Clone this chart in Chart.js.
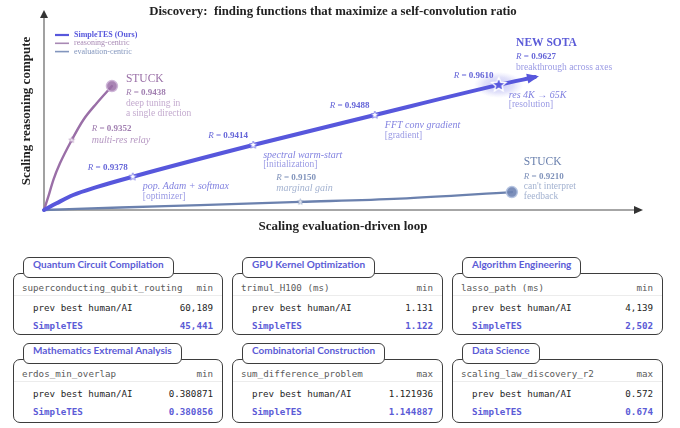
<!DOCTYPE html>
<html><head><meta charset="utf-8">
<script src="https://cdn.jsdelivr.net/npm/chart.js@4.4.1/dist/chart.umd.min.js"></script>
<style>
html,body{margin:0;padding:0;background:#fff;}
#wrap{position:relative;width:680px;height:428px;overflow:hidden;background:#fff;}
#c{position:absolute;left:0;top:0;}
.card{position:absolute;border:1.3px solid #3d3d3d;border-radius:7px;background:#fff;box-sizing:border-box;}
.tab{position:absolute;top:-17px;left:9px;height:21px;line-height:19px;padding:0 9px;border:1.3px solid #3d3d3d;border-radius:6px;background:#fff;box-sizing:border-box;font:bold 10px Lato,sans-serif;color:#5b5bd6;white-space:nowrap;}
.row{position:absolute;height:12px;line-height:12px;font:9.2px "DejaVu Sans Mono",monospace;white-space:nowrap;}
.row .r{position:absolute;right:0;top:0;}
.hdr{left:8px;right:9px;top:8px;color:#5a5a5a;}
.sep{position:absolute;left:0;right:0;top:21px;height:1px;background:#ececec;}
.prev{left:19px;right:9px;top:28px;color:#1e1e1e;}
.stes{left:19px;right:9px;top:46px;color:#5b5bd6;font-weight:bold;}
</style></head>
<body>
<div id="wrap">
<canvas id="c" width="680" height="240"></canvas>
<div id="cards"></div>
</div>
<script>
// ---------------- data ----------------
const simpleX = [0, 2.1, 4.9, 8.8, 14.9, 35.1, 55.5, 76.3, 82.4];
const simpleY = [0, 3.4, 7.6, 11.6, 16.9, 33.0, 48.2, 63.5, 67.5];
const simpleMilestoneIdx = [4, 5, 6, 7];
const simpleR = ['0.9378', '0.9414', '0.9488', '0.9610'];
const simpleNotes = ['pop. Adam + softmax', 'spectral warm-start', 'FFT conv gradient', 'res 4K \u2192 65K'];
const simpleTags = ['[optimizer]', '[initialization]', '[gradient]', '[resolution]'];
const simpleFinalR = '0.9627';

const reasonX = [0, 0.72, 1.56, 2.68, 4.65, 6.59, 8.84, 11.4];
const reasonY = [0, 6.75, 15.2, 23.7, 35.5, 45.7, 54.2, 62.9];
const reasonMilestoneIdx = 4;
const reasonR = '0.9352';
const reasonNote = 'multi-res relay';
const reasonFinalR = '0.9438';

const evalX = [0, 12.8, 26.2, 43.0, 59.7, 78.5];
const evalY = [0, 1.3, 2.5, 4.1, 5.8, 9.1];
const evalMilestoneIdx = 3;
const evalR = '0.9150';
const evalNote = 'marginal gain';
const evalFinalR = '0.9210';

const legendLabels = ['SimpleTES (Ours)', 'reasoning-centric', 'evaluation-centric'];

const cardTitles = ['Quantum Circuit Compilation', 'GPU Kernel Optimization', 'Algorithm Engineering',
  'Mathematics Extremal Analysis', 'Combinatorial Construction', 'Data Science'];
const cardMetrics = ['superconducting_qubit_routing', 'trimul_H100 (ms)', 'lasso_path (ms)',
  'erdos_min_overlap', 'sum_difference_problem', 'scaling_law_discovery_r2'];
const cardDirections = ['min', 'min', 'min', 'min', 'max', 'max'];
const prevBest = ['60,189', '1.131', '4,139', '0.380871', '1.121936', '0.572'];
const simpleTESBest = ['45,441', '1.122', '2,502', '0.380856', '1.144887', '0.674'];

// ---------------- styles ----------------
const BLUE = '#5757dc', MAUVE = '#9a6fa7', SLATE = '#6b81ae';
const SERIF = '"Liberation Serif", "Times New Roman", serif';

// ---------------- cards ----------------
const cardLefts = [13, 232, 452], cardWidths = [210, 211, 211];
const cardTops = [273, 359], cardHeights = [62, 64];
const cardsEl = document.getElementById('cards');
cardTitles.forEach((t, i) => {
  const col = i % 3, row = Math.floor(i / 3);
  const d = document.createElement('div');
  d.className = 'card';
  d.style.left = cardLefts[col] + 'px';
  d.style.top = cardTops[row] + 'px';
  d.style.width = cardWidths[col] + 'px';
  d.style.height = cardHeights[row] + 'px';
  d.innerHTML =
    '<div class="sep"></div>' +
    '<div class="row hdr">' + cardMetrics[i] + '<span class="r">' + cardDirections[i] + '</span></div>' +
    '<div class="row prev">prev best human/AI<span class="r">' + prevBest[i] + '</span></div>' +
    '<div class="row stes">SimpleTES<span class="r">' + simpleTESBest[i] + '</span></div>' +
    '<div class="tab">' + t + '</div>';
  cardsEl.appendChild(d);
});

// ---------------- marker images ----------------
function starCanvas(size, fill, stroke, lw) {
  const c = document.createElement('canvas');
  const s = Math.ceil(size + lw * 2 + 2);
  c.width = c.height = s;
  const g = c.getContext('2d');
  const cx = s / 2, cy = s / 2, R = size / 2, r = R * 0.45;
  g.beginPath();
  for (let k = 0; k < 10; k++) {
    const a = -Math.PI / 2 + k * Math.PI / 5;
    const rr = k % 2 === 0 ? R : r;
    g.lineTo(cx + rr * Math.cos(a), cy + rr * Math.sin(a));
  }
  g.closePath();
  g.fillStyle = fill; g.fill();
  if (lw > 0) { g.lineWidth = lw; g.strokeStyle = stroke; g.stroke(); }
  return c;
}
const smallStarBlue = starCanvas(8, '#ffffff', '#7a7ae8', 0.8);
const bigStar = starCanvas(15, '#5a5ae0', '#ffffff', 1.4);
const smallStarMauve = starCanvas(6, '#f3ecf5', MAUVE, 0.5);
const smallStarSlate = starCanvas(6, '#eef1f8', SLATE, 0.5);

const pts = (xs, ys) => xs.map((x, i) => ({ x, y: ys[i] }));
const simplePts = pts(simpleX, simpleY);
const reasonPts = pts(reasonX, reasonY);
const evalPts = pts(evalX, evalY);

// ---------------- drawing helpers ----------------
function rich(ctx, x, y, parts) {
  let cx = x;
  parts.forEach(p => {
    ctx.font = p.f; ctx.fillStyle = p.c;
    ctx.fillText(p.t, cx, y);
    cx += ctx.measureText(p.t).width;
  });
}
function rLabel(ctx, x, y, val, color) {
  rich(ctx, x, y, [
    { t: 'R', f: 'italic 9px ' + SERIF, c: color },
    { t: ' = ', f: '9px ' + SERIF, c: color },
    { t: val, f: 'bold 9px ' + SERIF, c: color }
  ]);
}
function text(ctx, s, x, y, font, color, align) {
  ctx.font = font; ctx.fillStyle = color; ctx.textAlign = align || 'left';
  ctx.fillText(s, x, y); ctx.textAlign = 'left';
}

const deco = {
  id: 'deco',
  beforeDatasetsDraw(chart) {
    const { ctx, chartArea: a, scales } = chart;
    ctx.save();
    // x axis
    ctx.strokeStyle = '#a6a6a6'; ctx.lineWidth = 2;
    ctx.beginPath(); ctx.moveTo(a.left, a.bottom); ctx.lineTo(a.right - 4, a.bottom); ctx.stroke();
    ctx.fillStyle = '#333';
    ctx.beginPath(); ctx.moveTo(a.right + 3, a.bottom); ctx.lineTo(a.right - 6, a.bottom - 4); ctx.lineTo(a.right - 6, a.bottom + 4); ctx.closePath(); ctx.fill();
    // y axis
    ctx.strokeStyle = '#555'; ctx.lineWidth = 1.1;
    ctx.beginPath(); ctx.moveTo(a.left, a.bottom); ctx.lineTo(a.left, a.top + 4); ctx.stroke();
    ctx.beginPath(); ctx.moveTo(a.left, a.top - 3); ctx.lineTo(a.left - 4, a.top + 5); ctx.lineTo(a.left + 4, a.top + 5); ctx.closePath(); ctx.fill();
    // glow around breakthrough star
    const gi = simpleMilestoneIdx[3];
    const gx = scales.x.getPixelForValue(simpleX[gi]), gy = scales.y.getPixelForValue(simpleY[gi]);
    ctx.translate(gx, gy); ctx.scale(1.9, 1);
    const grd = ctx.createRadialGradient(0, 0, 0, 0, 0, 13);
    grd.addColorStop(0, 'rgba(150,150,240,0.55)');
    grd.addColorStop(0.6, 'rgba(170,170,240,0.35)');
    grd.addColorStop(1, 'rgba(190,190,245,0)');
    ctx.fillStyle = grd; ctx.beginPath(); ctx.arc(0, 0, 13, 0, Math.PI * 2); ctx.fill();
    ctx.restore();
  },
  afterDatasetsDraw(chart) {
    const { ctx } = chart;
    ctx.save();
    ctx.textBaseline = 'middle';
    // arrowhead at end of SimpleTES path
    const m = chart.getDatasetMeta(0).data;
    const p1 = m[m.length - 2], p2 = m[m.length - 1];
    const ang = Math.atan2(p2.y - p1.y, p2.x - p1.x);
    ctx.translate(p2.x, p2.y); ctx.rotate(ang);
    ctx.fillStyle = BLUE;
    ctx.beginPath(); ctx.moveTo(4, 0); ctx.lineTo(-8, -5); ctx.lineTo(-8, 5); ctx.closePath(); ctx.fill();
    const dpr = chart.currentDevicePixelRatio || 1;
    ctx.setTransform(dpr, 0, 0, dpr, 0, 0);

    // title & axis labels
    text(ctx, 'Discovery:  finding functions that maximize a self-convolution ratio', 333, 12, 'bold 12.8px ' + SERIF, '#222', 'center');
    text(ctx, 'Scaling evaluation-driven loop', 343, 227, 'bold 13px ' + SERIF, '#222', 'center');
    ctx.save(); ctx.translate(27, 111); ctx.rotate(-Math.PI / 2);
    text(ctx, 'Scaling reasoning compute', 0, 0, 'bold 13px ' + SERIF, '#222', 'center');
    ctx.restore();

    // legend
    const lc = [BLUE, '#a889b4', '#8295bd'], lt = ['#5757dc', '#a889b4', '#8295bd'];
    const lw = [2.2, 1.6, 1.6];
    legendLabels.forEach((s, i) => {
      const y = 35 + i * 8.3;
      ctx.strokeStyle = lc[i]; ctx.lineWidth = lw[i];
      ctx.beginPath(); ctx.moveTo(55, y); ctx.lineTo(69, y); ctx.stroke();
      text(ctx, s, 74, y, (i === 0 ? 'bold ' : '') + '8px ' + SERIF, lt[i]);
    });

    // SimpleTES milestone annotations
    const blueR = '#6565d8', blueNote = '#8282e0', blueTag = '#9a9ae4';
    simpleMilestoneIdx.forEach((idx, k) => {
      const p = m[idx];
      rLabel(ctx, p.x - 45, p.y - 9, simpleR[k], blueR);
      text(ctx, simpleNotes[k], p.x + 10, p.y + 10, 'italic 10px ' + SERIF, blueNote);
      text(ctx, simpleTags[k], p.x + 10, p.y + 20, '9.5px ' + SERIF, blueTag);
    });
    text(ctx, 'NEW SOTA', p2.x - 19, p2.y - 34, 'bold 11.5px ' + SERIF, '#5b5bd8');
    rLabel(ctx, p2.x - 19, p2.y - 20, simpleFinalR, blueR);
    text(ctx, 'breakthrough across axes', p2.x - 19, p2.y - 10, '9.5px ' + SERIF, blueTag);

    // reasoning-centric
    const rm = chart.getDatasetMeta(1).data;
    const rs = rm[reasonMilestoneIdx], re = rm[rm.length - 1];
    const mauveR = '#a07eb0', mauveNote = '#b597c2', mauveLight = '#c4abcf';
    rLabel(ctx, rs.x + 20, rs.y - 11, reasonR, mauveR);
    text(ctx, reasonNote, rs.x + 20, rs.y, 'italic 10px ' + SERIF, mauveNote);
    text(ctx, 'STUCK', re.x + 14, re.y - 7, '11.5px ' + SERIF, '#9a6fa7');
    rLabel(ctx, re.x + 14, re.y + 7, reasonFinalR, mauveR);
    text(ctx, 'deep tuning in', re.x + 14, re.y + 17, '9.5px ' + SERIF, mauveLight);
    text(ctx, 'a single direction', re.x + 14, re.y + 27, '9.5px ' + SERIF, mauveLight);

    // evaluation-centric
    const em = chart.getDatasetMeta(2).data;
    const es = em[evalMilestoneIdx], ee = em[em.length - 1];
    const slateR = '#8093bb', slateLight = '#a3b2d0';
    rLabel(ctx, es.x - 24, es.y - 24, evalR, slateR);
    text(ctx, evalNote, es.x - 24, es.y - 14, 'italic 10px ' + SERIF, slateLight);
    text(ctx, 'STUCK', ee.x + 12, ee.y - 30, '11.5px ' + SERIF, '#6b81ae');
    rLabel(ctx, ee.x + 12, ee.y - 15, evalFinalR, slateR);
    text(ctx, "can't interpret", ee.x + 12, ee.y - 6, '9.5px ' + SERIF, slateLight);
    text(ctx, 'feedback', ee.x + 12, ee.y + 4, '9.5px ' + SERIF, slateLight);
    ctx.restore();
  }
};

const lineDS = (data, color, w) => ({
  type: 'scatter', data, showLine: true, borderColor: color, borderWidth: w,
  pointRadius: 0, cubicInterpolationMode: 'monotone', clip: false, order: 5,
  borderCapStyle: 'round'
});
const markDS = (data, style, bg, border, radius, bw) => ({
  type: 'scatter', data, showLine: false, pointStyle: style, pointRadius: radius || 4,
  backgroundColor: bg || BLUE, borderColor: border || BLUE, borderWidth: bw || 0, clip: false, order: 1
});

new Chart(document.getElementById('c'), {
  type: 'scatter',
  data: {
    datasets: [
      lineDS(simplePts, BLUE, 4),
      lineDS(reasonPts, MAUVE, 2.4),
      lineDS(evalPts, SLATE, 2.4),
      markDS(simpleMilestoneIdx.slice(0, 3).map(i => simplePts[i]), smallStarBlue),
      markDS([simplePts[simpleMilestoneIdx[3]]], bigStar),
      markDS([reasonPts[reasonMilestoneIdx]], smallStarMauve),
      markDS([evalPts[evalMilestoneIdx]], smallStarSlate),
      markDS([reasonPts[reasonPts.length - 1]], 'circle', 'rgba(154,111,167,0.85)', 'rgba(205,180,215,0.9)', 5.5, 1.5),
      markDS([evalPts[evalPts.length - 1]], 'circle', 'rgba(110,131,178,0.9)', 'rgba(180,195,225,0.9)', 5.5, 1.5)
    ]
  },
  options: {
    responsive: false, animation: false,
    layout: { padding: { left: 44, right: 40, top: 13, bottom: 30 } },
    plugins: { legend: { display: false }, tooltip: { enabled: false }, title: { display: false } },
    scales: {
      x: { type: 'linear', min: 0, max: 100, display: false },
      y: { type: 'linear', min: 0, max: 100, display: false }
    }
  },
  plugins: [deco]
});
</script>
</body></html>
